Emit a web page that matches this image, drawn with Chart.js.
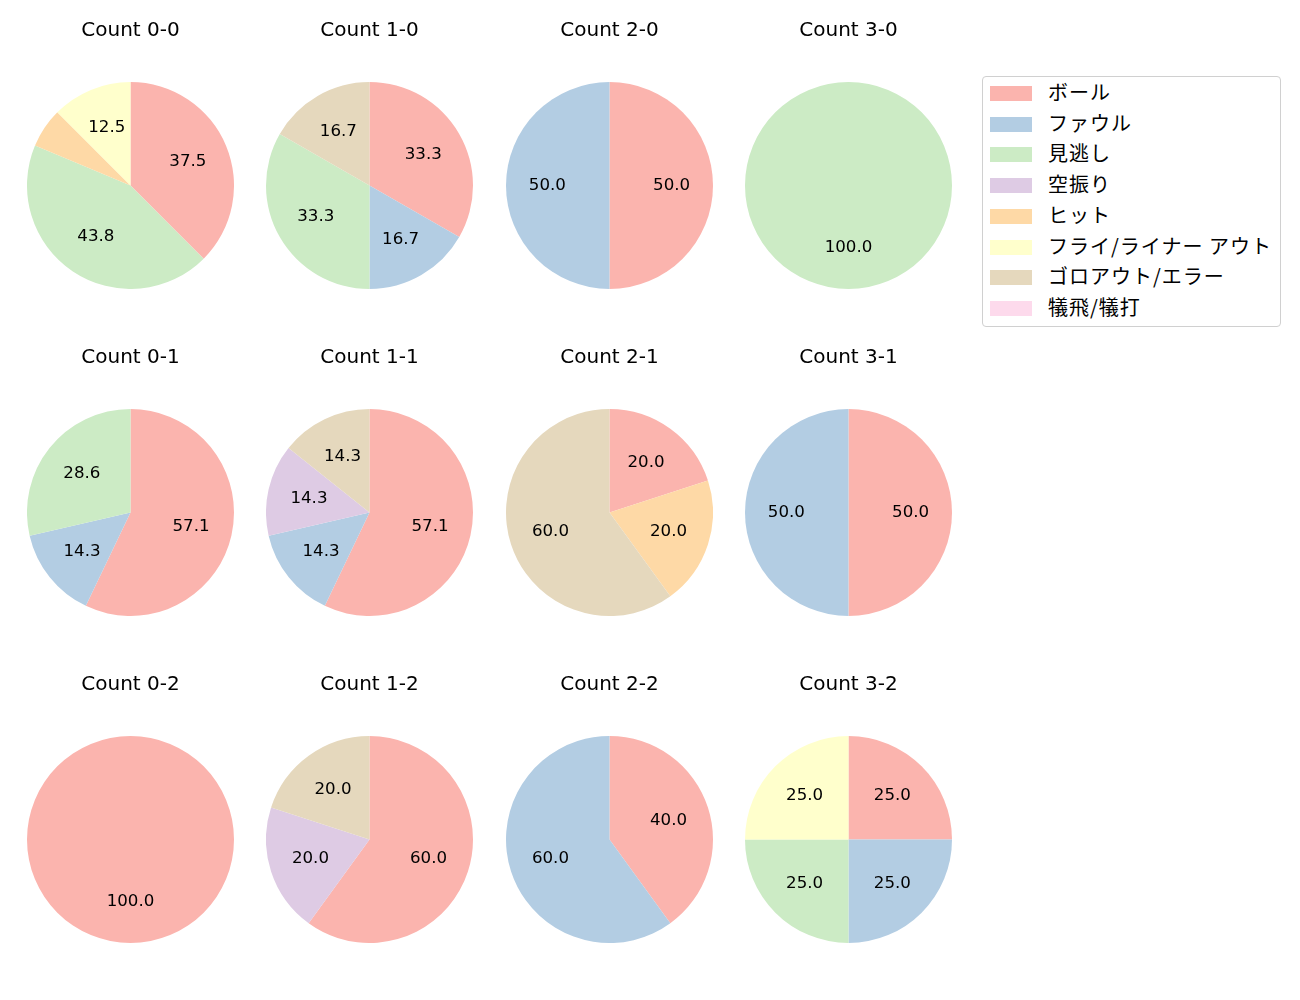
<!DOCTYPE html>
<html>
<head>
<meta charset="utf-8">
<script src="https://cdn.jsdelivr.net/npm/chart.js@4"></script>
<style>
  html, body { margin: 0; padding: 0; background: #ffffff; }
  #stage { position: relative; width: 1300px; height: 1000px; overflow: hidden; }
  canvas.pie { position: absolute; }
  #legend { position: absolute; left: 982px; top: 76px; width: 297px; height: 249px;
            border: 1px solid #d0d0d0; border-radius: 4px; background: #fff; }
  .sw { position: absolute; left: 7px; width: 42px; height: 15px; }
  .lt { position: absolute; left: 65px; font-family: "Noto Sans CJK JP", sans-serif;
        font-size: 20px; line-height: 24px; color: #000; white-space: nowrap; letter-spacing: 1px; }
</style>
</head>
<body>
<div id="stage"></div>
<script>
// ---- data ----
const categories = ["ボール", "ファウル", "見逃し", "空振り", "ヒット", "フライ/ライナー アウト", "ゴロアウト/エラー", "犠飛/犠打"];
const colors = ["#fbb4ae", "#b3cde3", "#ccebc5", "#decbe4", "#fed9a6", "#ffffcc", "#e5d8bd", "#fddaec"];
const countTitles = ["Count 0-0", "Count 1-0", "Count 2-0", "Count 3-0",
                     "Count 0-1", "Count 1-1", "Count 2-1", "Count 3-1",
                     "Count 0-2", "Count 1-2", "Count 2-2", "Count 3-2"];
// percentages per category (order as in categories)
const count00 = [37.5, 0, 43.8, 0, 6.2, 12.5, 0, 0];
const count10 = [33.3, 16.7, 33.3, 0, 0, 0, 16.7, 0];
const count20 = [50.0, 50.0, 0, 0, 0, 0, 0, 0];
const count30 = [0, 0, 100.0, 0, 0, 0, 0, 0];
const count01 = [57.1, 14.3, 28.6, 0, 0, 0, 0, 0];
const count11 = [57.1, 14.3, 0, 14.3, 0, 0, 14.3, 0];
const count21 = [20.0, 0, 0, 0, 20.0, 0, 60.0, 0];
const count31 = [50.0, 50.0, 0, 0, 0, 0, 0, 0];
const count02 = [100.0, 0, 0, 0, 0, 0, 0, 0];
const count12 = [60.0, 0, 0, 20.0, 0, 0, 20.0, 0];
const count22 = [40.0, 60.0, 0, 0, 0, 0, 0, 0];
const count32 = [25.0, 25.0, 25.0, 0, 0, 25.0, 0, 0];
const countData = [count00, count10, count20, count30,
                   count01, count11, count21, count31,
                   count02, count12, count22, count32];
const labelThreshold = 10;

// ---- layout ----
const colX = [130, 369.5, 609, 848.5];
const rowY = [185.5, 512.3, 839.2];
const pieSize = 207;
const titleBlock = 72;

const pctLabels = {
  id: 'pctLabels',
  afterDatasetsDraw(chart) {
    const ctx = chart.ctx;
    const meta = chart.getDatasetMeta(0);
    const data = chart.data.datasets[0].data;
    const total = data.reduce((a, b) => a + b, 0);
    ctx.save();
    ctx.font = '16.67px "DejaVu Sans"';
    ctx.fillStyle = '#000';
    ctx.textAlign = 'center';
    ctx.textBaseline = 'middle';
    meta.data.forEach((arc, i) => {
      const v = data[i];
      if (!v) return;
      const pct = v / total * 100;
      if (pct < labelThreshold) return;
      const p = arc.getProps(['x', 'y', 'startAngle', 'endAngle', 'outerRadius'], true);
      const mid = (p.startAngle + p.endAngle) / 2;
      const r = p.outerRadius * 0.6;
      ctx.fillText(pct.toFixed(1), p.x + Math.cos(mid) * r, p.y + Math.sin(mid) * r);
    });
    ctx.restore();
  }
};

const stage = document.getElementById('stage');
countData.forEach((vals, k) => {
  const c = k % 4, r = Math.floor(k / 4);
  const cv = document.createElement('canvas');
  cv.className = 'pie';
  cv.width = pieSize; cv.height = pieSize + titleBlock;
  cv.style.width = pieSize + 'px'; cv.style.height = (pieSize + titleBlock) + 'px';
  cv.style.left = (colX[c] - pieSize / 2) + 'px';
  cv.style.top = (rowY[r] - pieSize / 2 - titleBlock) + 'px';
  stage.appendChild(cv);
  new Chart(cv, {
    type: 'pie',
    data: {
      labels: categories,
      datasets: [{ data: vals, backgroundColor: colors, borderWidth: 0, hoverOffset: 0 }]
    },
    options: {
      responsive: false,
      animation: false,
      devicePixelRatio: 1,
      layout: { padding: 0 },
      rotation: 0,
      plugins: {
        legend: { display: false },
        tooltip: { enabled: false },
        title: {
          display: true,
          text: countTitles[k],
          color: '#000',
          font: { family: 'DejaVu Sans', size: 20, weight: 'normal', lineHeight: 1.2 },
          padding: { top: 9, bottom: 39 }
        }
      }
    },
    plugins: [pctLabels]
  });
});

// ---- legend (HTML) ----
const legend = document.createElement('div');
legend.id = 'legend';
stage.appendChild(legend);
categories.forEach((name, i) => {
  const cy = 16.5 + 30.7 * i;
  const sw = document.createElement('div');
  sw.className = 'sw';
  sw.style.top = (cy - 7.5) + 'px';
  sw.style.background = colors[i];
  legend.appendChild(sw);
  const t = document.createElement('div');
  t.className = 'lt';
  t.style.top = (cy - 13.5) + 'px';
  t.textContent = name;
  legend.appendChild(t);
});
</script>
</body>
</html>
